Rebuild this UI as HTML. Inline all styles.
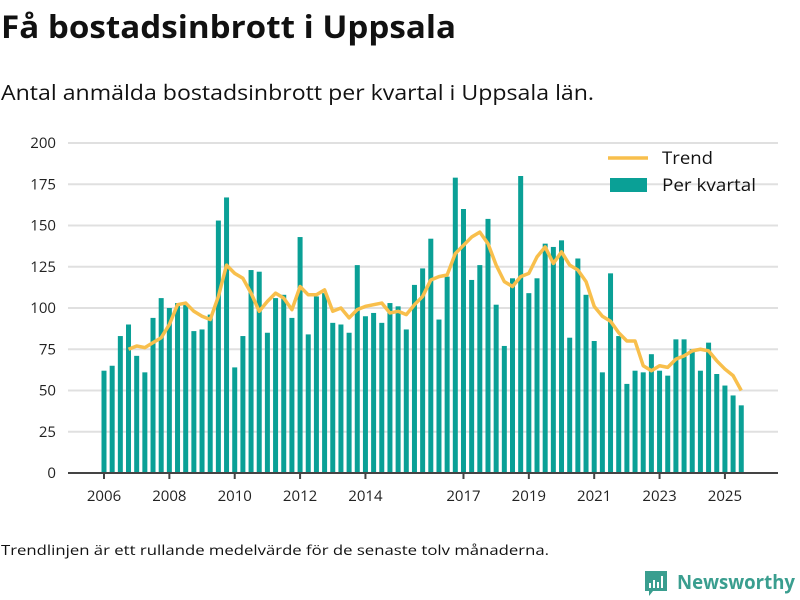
<!DOCTYPE html>
<html><head><meta charset="utf-8"><style>
body{margin:0;background:#fff;}
svg{display:block;font-family:"Open Sans","DejaVu Sans","Liberation Sans",sans-serif;}
</style></head><body>
<svg id="chart" width="800" height="600" viewBox="0 0 800 600">
<text x="1" y="38" font-size="31" font-weight="bold" fill="#111" textLength="455" lengthAdjust="spacingAndGlyphs">Få bostadsinbrott i Uppsala</text>
<text x="1" y="100" font-size="21" fill="#111" textLength="593" lengthAdjust="spacingAndGlyphs">Antal anmälda bostadsinbrott per kvartal i Uppsala län.</text>
<g id="grid"></g>
<g id="yaxis"></g>
<g id="bars"></g>
<path id="trend" fill="none" stroke="#f8bf4c" stroke-width="3.5" stroke-linejoin="round"/>
<g id="xaxis"></g>
<g>
<line x1="608" y1="158" x2="648" y2="158" stroke="#f8bf4c" stroke-width="3.5"/>
<text x="662" y="164" font-size="17" fill="#111" textLength="51" lengthAdjust="spacingAndGlyphs">Trend</text>
<rect x="610" y="178" width="37" height="14" fill="#0aa096"/>
<text x="662" y="191" font-size="17" fill="#111" textLength="94" lengthAdjust="spacingAndGlyphs">Per kvartal</text>
</g>
<text x="1" y="555" font-size="14" fill="#111" textLength="548" lengthAdjust="spacingAndGlyphs">Trendlinjen är ett rullande medelvärde för de senaste tolv månaderna.</text>
<g>
<path d="M645 571 h22 v20 h-14 l-4 5 v-5 h-4 z" fill="#3a9e8f"/>
<rect x="649" y="583" width="2" height="5" fill="#fff"/><rect x="653" y="580" width="2" height="8" fill="#fff"/><rect x="657" y="582" width="2" height="6" fill="#fff"/><rect x="661" y="576" width="2" height="12" fill="#fff"/>
<text x="677" y="589" font-size="20" font-weight="bold" fill="#3a9e8f" textLength="118" lengthAdjust="spacingAndGlyphs">Newsworthy</text>
</g>
</svg>
<script>
const values = [62,65,83,90,71,61,94,106,100,103,102,86,87,96,153,167,64,83,123,122,85,106,108,94,143,84,107,109,91,90,85,126,95,97,91,103,101,87,114,124,142,93,119,179,160,117,126,154,102,77,118,180,109,118,139,137,141,82,130,108,80,61,121,83,54,62,61,72,62,59,81,81,75,62,79,60,53,47,41];
const trend = [null,null,null,75,77,76,79,82,90,102,103,98,95,93,107,126,121,118,109,98,104,109,106,99,113,108,108,111,98,100,94,99,101,102,103,97,98,96,102,107,117,119,120,133,138,143,146,139,126,116,113,119,121,131,137,127,134,126,123,116,101,95,92,85,80,80,65,62,65,64,69,71,74,75,74,68,63,59,50];
const yTicks = [0,25,50,75,100,125,150,175,200];
const xTickLabels = ["2006","2008","2010","2012","2014","2017","2019","2021","2023","2025"];
const xTickIndex = [0,8,16,24,32,44,52,60,68,76];

const NS="http://www.w3.org/2000/svg";
const y0=473, yTop=143, x0=104, step=8.17;
function yScale(v){return y0-(v/200)*(y0-yTop);}
function xScale(i){return x0+i*step;}
function mk(tag,attrs,parent){const e=document.createElementNS(NS,tag);for(const k in attrs)e.setAttribute(k,attrs[k]);parent.appendChild(e);return e;}
const grid=document.getElementById('grid'), ya=document.getElementById('yaxis'), bars=document.getElementById('bars'), xa=document.getElementById('xaxis');
yTicks.forEach(t=>{
  if(t>0){const l=mk('line',{x1:68,x2:778,y1:yScale(t),y2:yScale(t),stroke:'#e0e0e0','stroke-width':2},grid);
  
  }
  const tx=mk('text',{x:56,y:yScale(t)+5,'font-size':15,fill:'#222','text-anchor':'end'},ya);
  tx.textContent=t;
  
  
});
values.forEach((v,i)=>{
  const r=mk('rect',{x:xScale(i)-2.5,y:yScale(v),width:5,height:y0-yScale(v),fill:'#0aa096'},bars);
  
  
});
let d='';trend.forEach((v,i)=>{if(v==null)return;d+=(d?'L':'M')+xScale(i)+' '+yScale(v);});
document.getElementById('trend').setAttribute('d',d);
const ax=mk('line',{x1:68,x2:778,y1:y0,y2:y0,stroke:'#444','stroke-width':2},xa);


xTickLabels.forEach((lab,k)=>{
  const x=xScale(xTickIndex[k]);
  const tk=mk('line',{x1:x,x2:x,y1:y0,y2:y0+6,stroke:'#444','stroke-width':2},xa);
  
  
  const tx=mk('text',{x:x,y:501,'font-size':15,fill:'#222','text-anchor':'middle'},xa);
  tx.textContent=lab;
  
  
});
</script>
</body></html>
